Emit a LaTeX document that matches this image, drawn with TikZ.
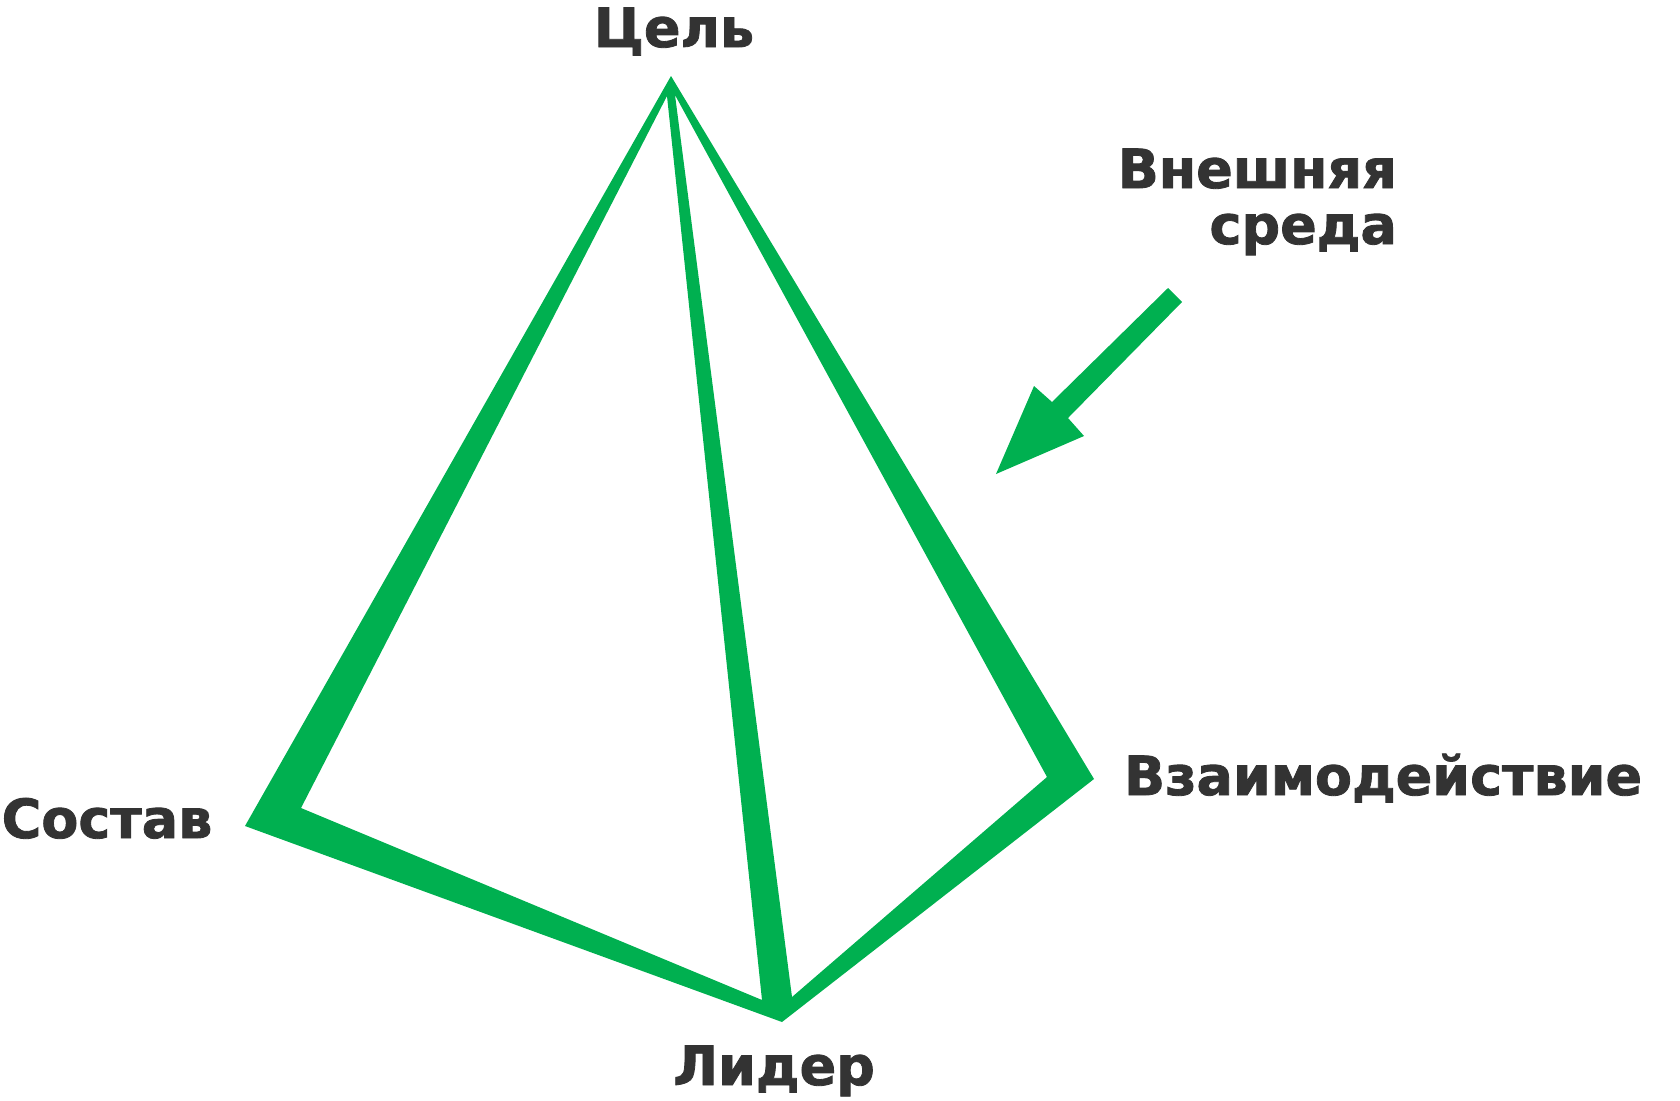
\documentclass[tikz,border=0pt]{standalone}
\usepackage{fontspec}
\setmainfont{DejaVu Sans}[BoldFeatures={FakeBold=1.5}]
\definecolor{pgreen}{RGB}{0,176,80}
\definecolor{ptext}{RGB}{51,51,51}
\begin{document}
\begin{tikzpicture}[x=1pt,y=-1pt,
  lbl/.style={text=ptext, font=\fontsize{54}{58}\selectfont\bfseries, inner sep=0pt},
  face/.style={fill=pgreen, draw=none, even odd rule}]
\useasboundingbox (0,0) rectangle (1680,1100);
% outer vertices
\coordinate (apex) at (671,76);
\coordinate (sostav) at (245,826);
\coordinate (lider) at (782,1022);
\coordinate (vzaim) at (1094,779);
% inner (white) faces
\coordinate (la) at (667,96);
\coordinate (lb) at (301,808);
\coordinate (lc) at (762,1000);
\coordinate (ra) at (675,95);
\coordinate (rb) at (1047,777);
\coordinate (rc) at (792,997);
\fill[face] (apex) -- (sostav) -- (lider) -- (vzaim) -- cycle
  (la) -- (lb) -- (lc) -- cycle
  (ra) -- (rb) -- (rc) -- cycle;
% arrow "external environment"
\coordinate (t1) at (1168,288);
\coordinate (t2) at (1182,302);
\coordinate (s2) at (1068,418);
\coordinate (b2) at (1084,436);
\coordinate (tip) at (996,474);
\coordinate (b1) at (1034,386);
\coordinate (s1) at (1052,402);
\fill[face] (t1) -- (t2) -- (s2) -- (b2) -- (tip) -- (b1) -- (s1) -- cycle;
% labels
\node[lbl, anchor=base] (tcel) at (674,47) {Цель};
\node[lbl, anchor=base east] (tvn1) at (1397,188) {Внешняя};
\node[lbl, anchor=base east] (tvn2) at (1397,244) {среда};
\node[lbl, anchor=base] (tsos) at (107,838) {Состав};
\node[lbl, anchor=base] (tvz) at (1383,795) {Взаимодействие};
\node[lbl, anchor=base] (tlid) at (774,1085) {Лидер};
\end{tikzpicture}
\end{document}
